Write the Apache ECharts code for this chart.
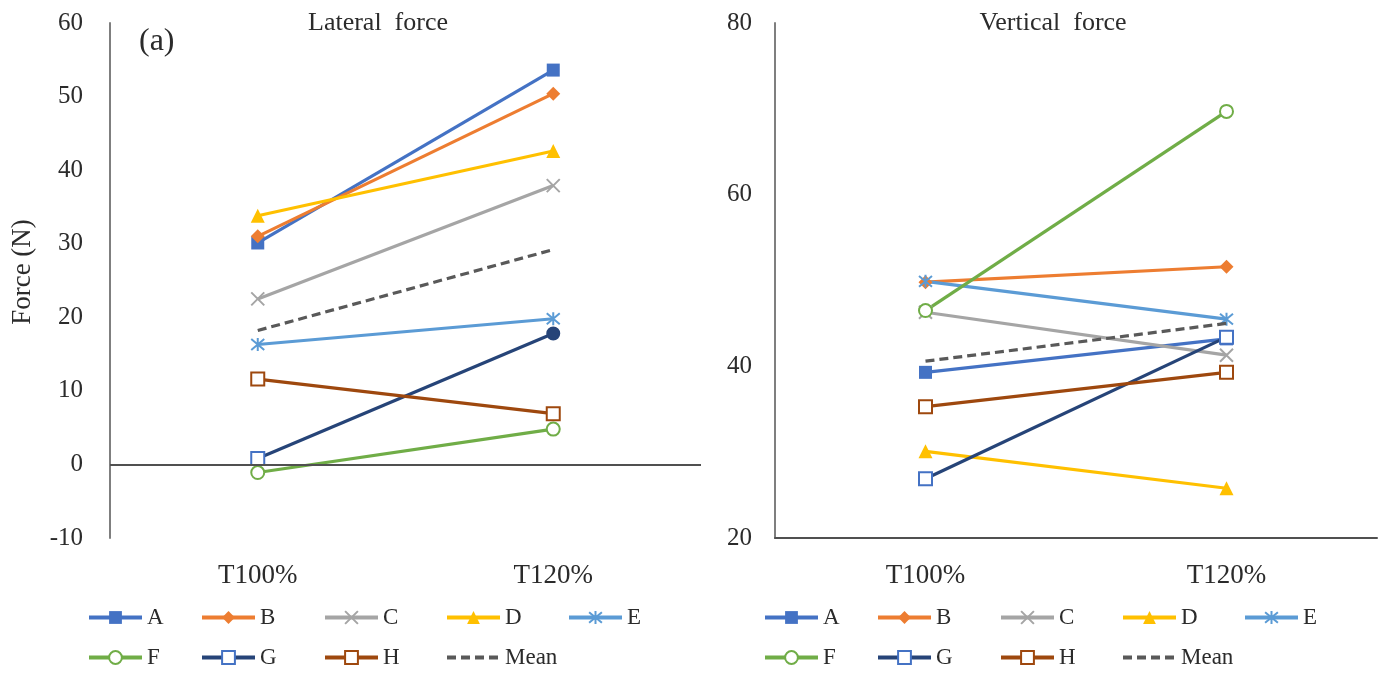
<!DOCTYPE html>
<html>
<head>
<meta charset="utf-8">
<script src="https://cdn.jsdelivr.net/npm/echarts@6/dist/echarts.min.js"></script>
<style>
  html, body { margin: 0; padding: 0; background: #ffffff; }
  #chart { width: 1384px; height: 675px; }
</style>
</head>
<body>
<div id="chart"></div>
<script>
// Test conditions on the category axis
const categories = ['T100%', 'T120%'];
const seriesNames = ['A', 'B', 'C', 'D', 'E', 'F', 'G', 'H', 'Mean'];

// Lateral force (N) per subject
const lateralA = [30.1, 53.6];
const lateralB = [31.0, 50.4];
const lateralC = [22.5, 37.9];
const lateralD = [33.8, 42.6];
const lateralE = [16.3, 19.8];
const lateralF = [-1.1, 4.8];
const lateralG = [0.8, 17.8];
const lateralH = [11.6, 6.9];
const lateralMean = [18.2, 29.2];

// Vertical force (N) per subject
const verticalA = [39.3, 43.2];
const verticalB = [49.8, 51.6];
const verticalC = [46.3, 41.3];
const verticalD = [30.1, 25.8];
const verticalE = [49.9, 45.5];
const verticalF = [46.5, 69.7];
const verticalG = [26.9, 43.4];
const verticalH = [35.3, 39.3];
const verticalMean = [40.6, 45.0];

// Axis ranges and tick steps
const lateralTicks = { min: -10, max: 60, step: 10 };
const verticalTicks = { min: 20, max: 80, step: 20 };

const lateralData = [lateralA, lateralB, lateralC, lateralD, lateralE, lateralF, lateralG, lateralH, lateralMean];
const verticalData = [verticalA, verticalB, verticalC, verticalD, verticalE, verticalF, verticalG, verticalH, verticalMean];

const FONT = '"Liberation Serif", "DejaVu Serif", serif';
const TEXT = '#2b2b2b';

// Marker / line appearance for each subject
const styles = {
  A: { color: '#4472C4', symbol: 'rect', size: 13, fill: '#4472C4' },
  B: { color: '#ED7D31', symbol: 'diamond', size: 14, fill: '#ED7D31' },
  C: { color: '#A5A5A5', symbol: 'path://M0,0L10,10M10,0L0,10', size: 13, fill: 'none', stroke: 2 },
  D: { color: '#FFC000', symbol: 'triangle', size: 14, fill: '#FFC000' },
  E: { color: '#5B9BD5', symbol: 'path://M0,0L10,10M10,0L0,10M5,-1L5,11', size: 13, fill: 'none', stroke: 2 },
  F: { color: '#70AD47', symbol: 'circle', size: 13, fill: '#ffffff', stroke: 2 },
  G: { color: '#264478', symbol: 'rect', size: 13, fill: '#ffffff', stroke: 2, border: '#4472C4' },
  H: { color: '#9E480E', symbol: 'rect', size: 13, fill: '#ffffff', stroke: 2 },
  Mean: { color: '#595959', symbol: 'none', dashed: true }
};

function buildSeries(dataSets, gridIndex) {
  return seriesNames.map(function (name, i) {
    const s = styles[name];
    return {
      name: name,
      type: 'line',
      xAxisIndex: gridIndex,
      yAxisIndex: gridIndex,
      data: dataSets[i].slice(),
      symbol: s.symbol,
      symbolSize: s.size || 0,
      showSymbol: s.symbol !== 'none',
      z: name === 'Mean' ? 3 : 2,
      lineStyle: {
        color: s.color,
        width: 3.2,
        type: s.dashed ? [9, 5] : 'solid'
      },
      itemStyle: {
        color: s.fill || s.color,
        borderColor: s.border || s.color,
        borderWidth: s.stroke || 0
      },
      emphasis: { disabled: true },
      animation: false
    };
  });
}

const lateralSeries = buildSeries(lateralData, 0);
const verticalSeries = buildSeries(verticalData, 1);

// Zero reference line across the lateral panel
lateralSeries[0].markLine = {
  silent: true,
  symbol: ['none', 'none'],
  label: { show: false },
  lineStyle: { color: '#505050', width: 2, type: 'solid' },
  data: [{ yAxis: 0 }],
  animation: false
};

// G at T120% in the lateral panel uses a filled dot
lateralSeries[6].data[1] = {
  value: lateralG[1],
  symbol: 'circle',
  symbolSize: 12,
  itemStyle: { color: '#264478', borderColor: '#264478' }
};

function yAxisFor(gridIndex, ticks, margin) {
  return {
    type: 'value',
    gridIndex: gridIndex,
    min: ticks.min,
    max: ticks.max,
    interval: ticks.step,
    axisLine: { show: true, lineStyle: { color: '#7f7f7f', width: 2 } },
    axisTick: { show: false },
    splitLine: { show: false },
    axisLabel: { color: TEXT, fontFamily: FONT, fontSize: 25, margin: margin }
  };
}

function xAxisFor(gridIndex, showLine) {
  return {
    type: 'category',
    gridIndex: gridIndex,
    data: categories,
    boundaryGap: true,
    axisLine: { show: showLine, onZero: false, lineStyle: { color: '#505050', width: 2 } },
    axisTick: { show: false },
    splitLine: { show: false },
    axisLabel: { color: TEXT, fontFamily: FONT, fontSize: 27, margin: 24 }
  };
}

// One legend box per entry so the entries sit in fixed columns
const legendColumns = [0, 113, 236, 358, 480];
const legendRows = [[['A', 0], ['B', 1], ['C', 2], ['D', 3], ['E', 4]], [['F', 0], ['G', 1], ['H', 2], ['Mean', 3]]];

function legendItem(name, left, top) {
  const entry = name === 'Mean' ? { name: name, itemStyle: { color: 'rgba(0,0,0,0)', borderWidth: 0 } } : name;
  return {
    left: left,
    top: top,
    padding: 0,
    orient: 'horizontal',
    data: [entry],
    itemWidth: 53,
    itemHeight: 16,
    selectedMode: false,
    lineStyle: { width: 4 },
    textStyle: { color: TEXT, fontFamily: FONT, fontSize: 23 }
  };
}

function legendBlock(originX, originY) {
  const out = [];
  legendRows.forEach(function (row, r) {
    row.forEach(function (cell) {
      out.push(legendItem(cell[0], originX + legendColumns[cell[1]], originY + r * 40));
    });
  });
  return out;
}

const option = {
  backgroundColor: '#ffffff',
  animation: false,
  grid: [
    { left: 110, right: 683, top: 23, bottom: 137 },
    { left: 775, right: 7, top: 23, bottom: 137 }
  ],
  xAxis: [xAxisFor(0, false), xAxisFor(1, true)],
  yAxis: [yAxisFor(0, lateralTicks, 27), yAxisFor(1, verticalTicks, 23)],
  legend: legendBlock(87, 606).concat(legendBlock(763, 606)),
  graphic: [
    { type: 'text', x: 378, y: 23, style: { text: 'Lateral  force', fill: TEXT, font: '26px ' + FONT, align: 'center', verticalAlign: 'middle' } },
    { type: 'text', x: 1053, y: 23, style: { text: 'Vertical  force', fill: TEXT, font: '26px ' + FONT, align: 'center', verticalAlign: 'middle' } },
    { type: 'text', x: 139, y: 42, style: { text: '(a)', fill: TEXT, font: '32px ' + FONT, align: 'left', verticalAlign: 'middle' } },
    { type: 'text', x: 23, y: 272, rotation: Math.PI / 2, style: { text: 'Force (N)', fill: TEXT, font: '27px ' + FONT, align: 'center', verticalAlign: 'middle' } }
  ],
  series: lateralSeries.concat(verticalSeries)
};

const chart = echarts.init(document.getElementById('chart'), null, { renderer: 'canvas' });
chart.setOption(option);
</script>
</body>
</html>
